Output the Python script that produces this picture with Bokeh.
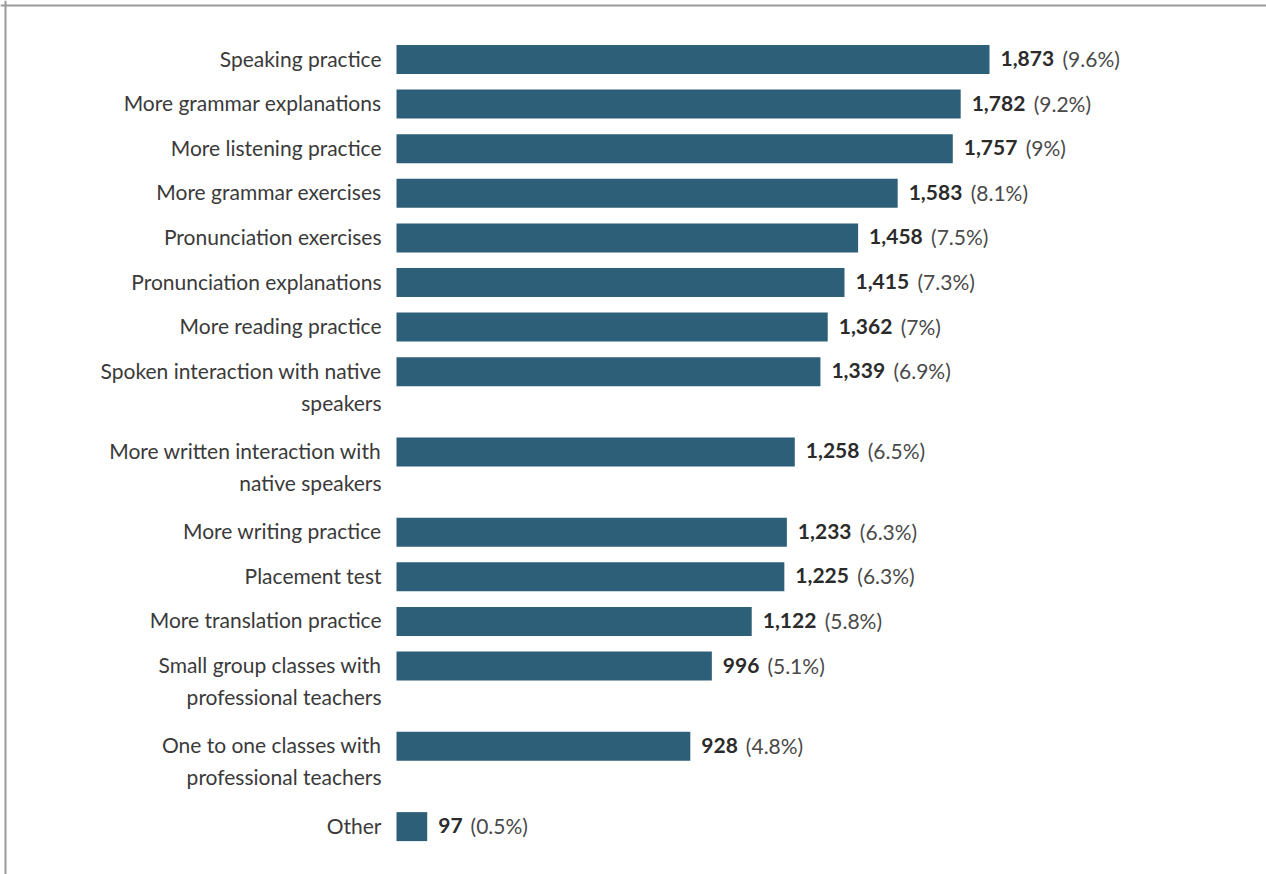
from bokeh.plotting import figure
from bokeh.models import Range1d, Span, ColumnDataSource
from bokeh.core.properties import value
from bokeh.embed import file_html
from bokeh.resources import INLINE

categories = [
    "Speaking practice",
    "More grammar explanations",
    "More listening practice",
    "More grammar exercises",
    "Pronunciation exercises",
    "Pronunciation explanations",
    "More reading practice",
    "Spoken interaction with native\nspeakers",
    "More written interaction with\nnative speakers",
    "More writing practice",
    "Placement test",
    "More translation practice",
    "Small group classes with\nprofessional teachers",
    "One to one classes with\nprofessional teachers",
    "Other",
]
counts = [1873, 1782, 1757, 1583, 1458, 1415, 1362, 1339, 1258, 1233, 1225, 1122, 996, 928, 97]
percent_labels = ["(9.6%)", "(9.2%)", "(9%)", "(8.1%)", "(7.5%)", "(7.3%)", "(7%)", "(6.9%)",
                  "(6.5%)", "(6.3%)", "(6.3%)", "(5.8%)", "(5.1%)", "(4.8%)", "(0.5%)"]

W, H = 1266, 874
FONT = "Lato"
FS = 21
BAR_COLOR = "#2e5f78"
TEXT_COLOR = "#3a3a3a"

# row positions: each extra label line adds extra space
ys = []
pos = 0.0
for i, c in enumerate(categories):
    if i > 0:
        pos += 1 + 0.8 * categories[i - 1].count("\n")
    ys.append(pos)

line1 = [c.split("\n")[0] for c in categories]
line2 = [c.split("\n")[1] if "\n" in c else "" for c in categories]
num_txt = [f"{v:,}" for v in counts]

def bold_width(s):
    w = 0.0
    for ch in s:
        w += 0.25 if ch == "," else 0.58
    return w * FS

pct_off = [11 + bold_width(s) + 8 for s in num_txt]

src = ColumnDataSource(dict(y=ys, v=counts, l1=line1, l2=line2, num=num_txt,
                            pct=percent_labels, pct_off=pct_off))

px_per_unit_x = (989 - 396) / 1873.0
x0 = -396 / px_per_unit_x
x1 = (W - 396) / px_per_unit_x
px_per_row = 44.6
y_top = -59 / px_per_row
y_bot = (H - 59) / px_per_row

p = figure(width=W, height=H, output_backend="svg", toolbar_location=None,
           x_range=Range1d(x0, x1), y_range=Range1d(y_bot, y_top),
           min_border=0, min_border_left=0, min_border_right=0,
           min_border_top=0, min_border_bottom=0)
p.axis.visible = False
p.grid.visible = False
p.outline_line_color = None
p.background_fill_color = "white"
p.border_fill_color = "white"

p.hbar(y="y", right="v", left=0, height=0.65, source=src,
       fill_color=BAR_COLOR, line_color=None)

p.text(x=0, y="y", text="l1", source=src, x_offset=-15, y_offset=-1.5,
       text_align="right", text_baseline="middle",
       text_font=value(FONT), text_font_size=f"{FS}px", text_color=TEXT_COLOR)
p.text(x=0, y="y", text="l2", source=src, x_offset=-15, y_offset=30.5,
       text_align="right", text_baseline="middle",
       text_font=value(FONT), text_font_size=f"{FS}px", text_color=TEXT_COLOR)

p.text(x="v", y="y", text="num", source=src, x_offset=11, y_offset=-1,
       text_align="left", text_baseline="middle",
       text_font=value(FONT), text_font_size=f"{FS}px", text_font_style="bold",
       text_color="#2b2b2b")
p.text(x="v", y="y", text="pct", source=src, x_offset="pct_off", y_offset=-1,
       text_align="left", text_baseline="middle",
       text_font=value(FONT), text_font_size=f"{FS}px", text_color="#4a4a4a")

p.add_layout(Span(location=5, location_units="screen", dimension="height",
                  line_color="#9a9a9a", line_width=2))
p.add_layout(Span(location=H - 5, location_units="screen", dimension="width",
                  line_color="#9a9a9a", line_width=2))

open("out.html", "w").write(file_html(p, INLINE))
